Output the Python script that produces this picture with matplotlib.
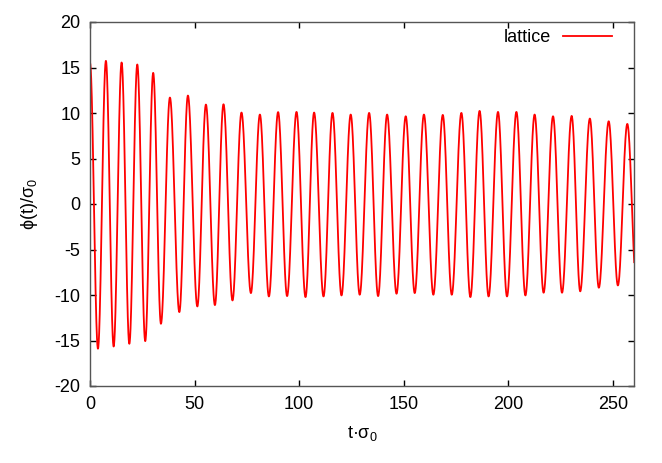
import numpy as np
import matplotlib
matplotlib.use("Agg")
import matplotlib.pyplot as plt

plt.rcParams['font.family'] = ['Liberation Sans', 'DejaVu Sans']
plt.rcParams['mathtext.fontset'] = 'custom'
plt.rcParams['mathtext.rm'] = 'Liberation Sans'
plt.rcParams['mathtext.it'] = 'Liberation Sans'
plt.rcParams['mathtext.sf'] = 'Liberation Sans'
plt.rcParams['axes.unicode_minus'] = False

# Extrema of phi(t)/sigma_0
peak_t = [0.0, 7.6, 15.1, 22.6, 30.2, 38.2, 46.8, 55.4, 63.8, 72.4, 81.2,
          89.9, 98.7, 107.1, 115.9, 124.6, 133.4, 142.0, 150.9, 159.6, 168.6,
          177.5, 186.2, 195.0, 203.8, 212.5, 221.3, 230.2, 238.9, 247.9, 256.8]
peak_phi = [15.5, 15.73, 15.55, 15.33, 14.41, 11.70, 11.92, 10.93, 10.96, 10.05, 9.83,
            10.10, 10.12, 10.05, 10.01, 9.83, 10.01, 9.83, 9.64, 9.83, 9.79,
            10.01, 10.23, 10.12, 10.12, 9.83, 9.64, 9.68, 9.39, 9.09, 8.80]
trough_t = [3.8, 11.3, 18.8, 26.4, 33.9, 42.7, 51.3, 59.7, 68.1, 76.9, 85.5,
            94.2, 103.0, 111.6, 120.2, 128.9, 137.7, 146.5, 155.2, 164.1, 172.9,
            181.8, 190.5, 199.3, 208.1, 216.8, 225.6, 234.3, 243.2, 252.3, 261.2]
trough_phi = [-15.9, -15.66, -15.36, -15.07, -13.16, -11.88, -11.26, -11.11, -10.60, -9.79, -10.16,
              -10.12, -10.23, -10.16, -10.05, -9.97, -10.12, -9.86, -9.79, -9.97, -9.97,
              -10.23, -10.16, -10.16, -10.05, -9.75, -9.75, -9.60, -9.20, -8.95, -9.0]

x_ticks = [0, 50, 100, 150, 200, 250]
y_ticks = [-20, -15, -10, -5, 0, 5, 10, 15, 20]
series_label = "lattice"

# Build a smooth curve through the extrema (half-cosine between neighbours)
ext = sorted(zip(peak_t + trough_t, peak_phi + trough_phi))
ts, vs = [], []
for (t0, v0), (t1, v1) in zip(ext[:-1], ext[1:]):
    s = np.linspace(0, 1, 40, endpoint=False)
    ts.append(t0 + (t1 - t0) * s)
    vs.append(v0 + (v1 - v0) * (1 - np.cos(np.pi * s)) / 2)
ts.append([ext[-1][0]]); vs.append([ext[-1][1]])
t = np.concatenate(ts); v = np.concatenate(vs)

fs = 13
fig = plt.figure(figsize=(6.62, 4.63), dpi=100)
ax = fig.add_axes([90/662, 1-386/463, 544/662, 364/463])
ax.plot(t, v, color='#ff0000', lw=1.3, label=series_label)
ax.set_xlim(0, 260)
ax.set_ylim(-20, 20)
ax.set_xticks(x_ticks)
ax.set_yticks(y_ticks)
ax.tick_params(direction='in', length=4, width=1, top=True, right=True,
               labelsize=fs, colors='black', pad=7)
for sp in ax.spines.values():
    sp.set_color('#555555')
    sp.set_linewidth(1.0)
ax.set_xlabel('t\u00b7\u03c3$_0$', fontsize=fs, labelpad=8)
ax.set_ylabel('\u03d5(t)/\u03c3$_0$', fontsize=fs, labelpad=10)
ax.legend(loc='upper right', bbox_to_anchor=(0.96, 0.98), frameon=False,
          markerfirst=False, fontsize=fs, handlelength=2.75, borderpad=0,
          borderaxespad=0, handletextpad=0.65)
fig.savefig('out.png', dpi=100)
